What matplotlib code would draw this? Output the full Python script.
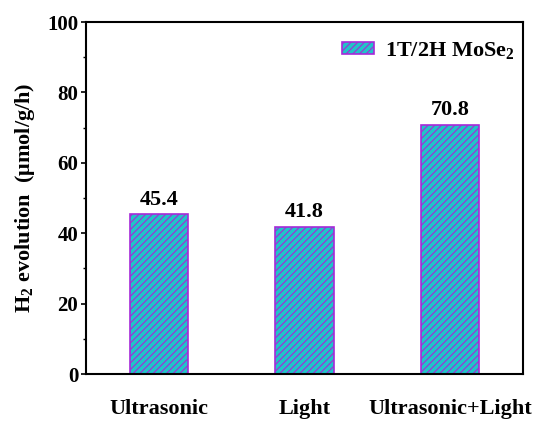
import matplotlib
matplotlib.use("Agg")
import matplotlib.pyplot as plt
from matplotlib.ticker import MultipleLocator

categories = ["Ultrasonic", "Light", "Ultrasonic+Light"]
values = [45.4, 41.8, 70.8]
series_name = "1T/2H MoSe$_2$"

plt.rcParams["font.family"] = ["Liberation Serif", "DejaVu Serif"]
plt.rcParams["font.weight"] = "bold"
plt.rcParams["mathtext.fontset"] = "custom"
plt.rcParams["mathtext.rm"] = "Liberation Serif:bold"
plt.rcParams["mathtext.it"] = "Liberation Serif:bold"
plt.rcParams["mathtext.bf"] = "Liberation Serif:bold"
plt.rcParams["mathtext.default"] = "rm"
plt.rcParams["hatch.color"] = "#a62ad8"
plt.rcParams["hatch.linewidth"] = 0.8

fig = plt.figure(figsize=(5.37, 4.21), dpi=100)
ax = fig.add_axes([86 / 537, 1 - 374 / 421, 437 / 537, 352 / 421])

x = range(len(categories))
ax.bar(x, values, width=0.4, color="#20c4c8", edgecolor="#a62ad8",
       linewidth=1.2, hatch="/////", label=series_name)

for xi, v in zip(x, values):
    ax.text(xi, v + 1.3, f"{v}", ha="center", va="bottom",
            fontsize=16, fontweight="bold")

ax.set_xlim(-0.5, 2.5)
ax.set_ylim(0, 100)
ax.set_xticks(list(x))
ax.set_xticklabels(categories, fontsize=16, fontweight="bold")
ax.tick_params(axis="x", length=0, pad=18)
ax.yaxis.set_major_locator(MultipleLocator(20))
ax.yaxis.set_minor_locator(MultipleLocator(10))
ax.tick_params(axis="y", which="major", direction="out", length=3.6, width=1.2,
               labelsize=15, pad=2)
ax.tick_params(axis="y", which="minor", direction="out", length=2.2, width=1.0)
for lbl in ax.get_yticklabels():
    lbl.set_fontweight("bold")
for s in ax.spines.values():
    s.set_linewidth(1.5)

ax.set_ylabel("H$_2$ evolution  (μmol/g/h)", fontsize=16, fontweight="bold",
              labelpad=7)

ax.legend(loc="upper right", bbox_to_anchor=(1.0, 1 - 10 / 352), frameon=False,
          prop={"weight": "bold", "size": 16},
          handlelength=1.44, handleheight=0.5, handletextpad=0.5,
          borderpad=0.1, borderaxespad=0.26)

fig.savefig("out.png", dpi=100)
